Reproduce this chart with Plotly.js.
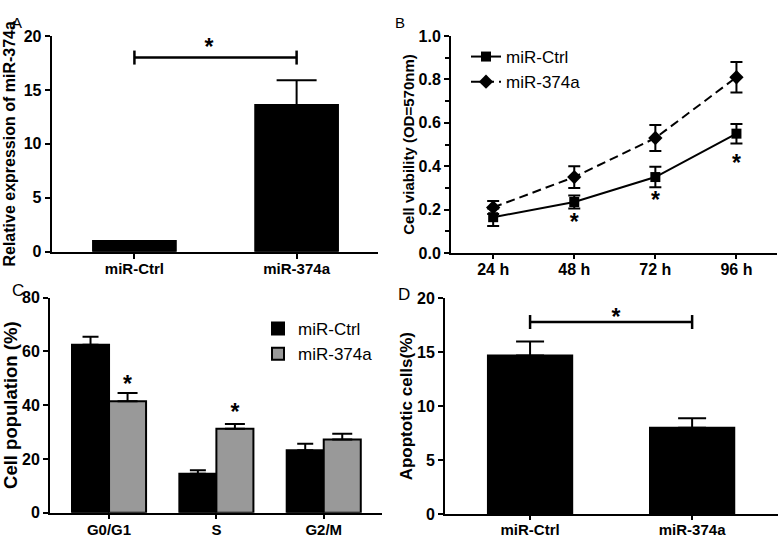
<!DOCTYPE html>
<html>
<head>
<meta charset="utf-8">
<script src="https://cdn.plot.ly/plotly-3.0.1.min.js"></script>
<style>html,body{margin:0;padding:0;background:#fff;}#chart{width:780px;height:539px;}</style>
</head>
<body>
<div id="chart"></div>
<script>
// ---------- Panel A: relative expression ----------
const catsA = ['miR-Ctrl', 'miR-374a'];
const valsA = [1.0, 13.6];
const errA = [0, 2.3];
const sigLevelA = 18;
const starLevelA = 18.75;

// ---------- Panel B: cell viability ----------
const timesB = ['24 h', '48 h', '72 h', '96 h'];
const ctrlB = [0.165, 0.235, 0.35, 0.55];
const ctrlErrB = [0.04, 0.03, 0.047, 0.045];
const mirB = [0.21, 0.35, 0.53, 0.81];
const mirErrB = [0.03, 0.05, 0.06, 0.07];
const starsB = [null, 0.132, 0.232, 0.405];

// ---------- Panel C: cell cycle ----------
const phasesC = ['G0/G1', 'S', 'G2/M'];
const ctrlC = [62.5, 14.5, 23.2];
const ctrlErrC = [3.0, 1.3, 2.5];
const mirC = [41.5, 31.2, 27.2];
const mirErrC = [3.0, 1.8, 2.2];
const starsC = [47.2, 36.8, null];

// ---------- Panel D: apoptosis ----------
const catsD = ['miR-Ctrl', 'miR-374a'];
const valsD = [14.7, 8.0];
const errD = [1.3, 0.87];
const sigLevelD = 17.8;
const starLevelD = 18.1;

const seriesNames = ['miR-Ctrl', 'miR-374a'];

// ---------- helpers ----------
const FONT = 'Liberation Sans, Arial, sans-serif';
const idx = a => a.map((_, i) => i);
const zeros = a => a.map(() => 0);
const starFont = {family: FONT, size: 23, color: '#000', weight: 'bold'};
const W = 780, H = 539;
const px = v => v / W;
const py = v => 1 - v / H;

const traces = [];

// Panel A
traces.push({
  type: 'bar', x: idx(catsA), y: valsA, width: 0.51, xaxis: 'x', yaxis: 'y',
  marker: {color: '#000', line: {color: '#000', width: 2}},
  error_y: {type: 'data', symmetric: false, array: errA, arrayminus: zeros(errA), color: '#000', thickness: 2, width: 20},
  showlegend: false, hoverinfo: 'skip'
});
traces.push({
  type: 'scatter', mode: 'lines+markers', x: [0, 1], y: [sigLevelA, sigLevelA], xaxis: 'x', yaxis: 'y',
  line: {color: '#000', width: 2.5}, marker: {symbol: 'line-ns', size: 10, line: {color: '#000', width: 2.5}},
  showlegend: false, hoverinfo: 'skip', cliponaxis: false
});
traces.push({
  type: 'scatter', mode: 'text', x: [0.46], y: [starLevelA], text: ['*'], textfont: starFont,
  xaxis: 'x', yaxis: 'y', showlegend: false, hoverinfo: 'skip', cliponaxis: false
});

// Panel B
traces.push({
  type: 'scatter', mode: 'lines+markers', name: seriesNames[0], x: idx(timesB), y: ctrlB, xaxis: 'x2', yaxis: 'y2',
  line: {color: '#000', width: 2}, marker: {symbol: 'square', size: 10, color: '#000'},
  error_y: {type: 'data', array: ctrlErrB, color: '#000', thickness: 2, width: 6},
  legend: 'legend', hoverinfo: 'skip', cliponaxis: false
});
traces.push({
  type: 'scatter', mode: 'lines+markers', name: seriesNames[1], x: idx(timesB), y: mirB, xaxis: 'x2', yaxis: 'y2',
  line: {color: '#000', width: 2, dash: '9px,5px'}, marker: {symbol: 'diamond', size: 11, color: '#000'},
  error_y: {type: 'data', array: mirErrB, color: '#000', thickness: 2, width: 6},
  legend: 'legend', hoverinfo: 'skip', cliponaxis: false
});
traces.push({
  type: 'scatter', mode: 'text', x: idx(timesB), y: starsB, text: starsB.map(s => s === null ? '' : '*'),
  textfont: starFont, xaxis: 'x2', yaxis: 'y2', showlegend: false, hoverinfo: 'skip', cliponaxis: false
});

// Panel C
const barW = 0.345;
traces.push({
  type: 'bar', name: seriesNames[0], x: idx(phasesC), y: ctrlC, xaxis: 'x3', yaxis: 'y3',
  marker: {color: '#000', line: {color: '#000', width: 2}},
  error_y: {type: 'data', symmetric: false, array: ctrlErrC, arrayminus: zeros(ctrlErrC), color: '#000', thickness: 2, width: 8},
  legend: 'legend2', hoverinfo: 'skip'
});
traces.push({
  type: 'bar', name: seriesNames[1], x: idx(phasesC), y: mirC, xaxis: 'x3', yaxis: 'y3',
  marker: {color: '#999999', line: {color: '#000', width: 2}},
  error_y: {type: 'data', symmetric: false, array: mirErrC, arrayminus: zeros(mirErrC), color: '#000', thickness: 2, width: 10},
  legend: 'legend2', hoverinfo: 'skip'
});
traces.push({
  type: 'scatter', mode: 'text', x: idx(phasesC).map(i => i + barW / 2), y: starsC,
  text: starsC.map(s => s === null ? '' : '*'), textfont: starFont,
  xaxis: 'x3', yaxis: 'y3', showlegend: false, hoverinfo: 'skip', cliponaxis: false
});

// Panel D
traces.push({
  type: 'bar', x: idx(catsD), y: valsD, width: 0.52, xaxis: 'x4', yaxis: 'y4',
  marker: {color: '#000', line: {color: '#000', width: 2}},
  error_y: {type: 'data', symmetric: false, array: errD, arrayminus: zeros(errD), color: '#000', thickness: 2, width: 14},
  showlegend: false, hoverinfo: 'skip'
});
traces.push({
  type: 'scatter', mode: 'lines+markers', x: [0, 1], y: [sigLevelD, sigLevelD], xaxis: 'x4', yaxis: 'y4',
  line: {color: '#000', width: 2.5}, marker: {symbol: 'line-ns', size: 10, line: {color: '#000', width: 2.5}},
  showlegend: false, hoverinfo: 'skip', cliponaxis: false
});
traces.push({
  type: 'scatter', mode: 'text', x: [0.53], y: [starLevelD], text: ['*'], textfont: starFont,
  xaxis: 'x4', yaxis: 'y4', showlegend: false, hoverinfo: 'skip', cliponaxis: false
});

const tickFont = {family: FONT, size: 16, color: '#000', weight: 'bold'};
const xTickFont = {family: FONT, size: 15, color: '#000', weight: 'bold'};
const baseAxis = {
  showgrid: false, zeroline: false, showline: true, linecolor: '#000', linewidth: 2,
  ticks: 'outside', ticklen: 5, tickwidth: 2, tickcolor: '#000', fixedrange: true
};
const yTitle = (text, size, standoff) => ({text: text, font: {family: FONT, size: size, color: '#000', weight: 'bold'}, standoff: standoff});

const layout = {
  width: W, height: H, margin: {l: 0, r: 0, t: 0, b: 0},
  paper_bgcolor: '#fff', plot_bgcolor: '#fff',
  barmode: 'group', bargap: 0.31, bargroupgap: 0,
  font: {family: FONT, color: '#000'},
  xaxis: Object.assign({}, baseAxis, {domain: [px(51.7), px(377.7)], anchor: 'y', range: [-0.51, 1.5],
    tickvals: idx(catsA), ticktext: catsA, tickfont: xTickFont, ticklabelstandoff: -3}),
  yaxis: Object.assign({}, baseAxis, {domain: [py(251.7), py(36)], anchor: 'x', range: [0, 20], dtick: 5,
    tickfont: tickFont, title: yTitle('Relative expression of miR-374a', 16, 4)}),
  xaxis2: Object.assign({}, baseAxis, {domain: [px(451), px(777)], anchor: 'y2', range: [-0.52, 3.5],
    tickvals: idx(timesB), ticktext: timesB, tickfont: tickFont, ticklen: 4, ticklabelstandoff: -3}),
  yaxis2: Object.assign({}, baseAxis, {domain: [py(253), py(36)], anchor: 'x2', range: [0, 1], dtick: 0.2, tickformat: '.1f',
    minor: {dtick: 0.1, ticks: 'outside', ticklen: 4, tickwidth: 2, tickcolor: '#000'},
    tickfont: tickFont, title: yTitle('Cell viability (OD=570nm)', 15, 0)}),
  xaxis3: Object.assign({}, baseAxis, {domain: [px(50), px(381.7)], anchor: 'y3', range: [-0.55, 2.54],
    tickvals: idx(phasesC), ticktext: phasesC, tickfont: xTickFont, ticklen: 4, ticklabelstandoff: -2}),
  yaxis3: Object.assign({}, baseAxis, {domain: [py(512.7), py(297.7)], anchor: 'x3', range: [0, 80], dtick: 20,
    tickfont: tickFont, title: yTitle('Cell population (%)', 18.5, 3)}),
  xaxis4: Object.assign({}, baseAxis, {domain: [px(445), px(778)], anchor: 'y4', range: [-0.525, 1.53],
    tickvals: idx(catsD), ticktext: catsD, tickfont: xTickFont, ticklen: 4, ticklabelstandoff: -3}),
  yaxis4: Object.assign({}, baseAxis, {domain: [py(514), py(298.3)], anchor: 'x4', range: [0, 20], dtick: 5,
    tickfont: tickFont, title: yTitle('Apoptotic cells(%)', 17, 0)}),
  legend: {x: px(466), y: py(39), xanchor: 'left', yanchor: 'top', bgcolor: 'rgba(0,0,0,0)',
    font: {family: FONT, size: 17, color: '#000'}, tracegroupgap: 0, itemwidth: 30},
  legend2: {x: px(258), y: py(311), xanchor: 'left', yanchor: 'top', bgcolor: 'rgba(0,0,0,0)',
    font: {family: FONT, size: 17, color: '#000'}, tracegroupgap: 0},
  annotations: [
    {text: 'A', x: px(10), y: py(12), xref: 'paper', yref: 'paper', showarrow: false, font: {family: FONT, size: 15, color: '#000'}},
    {text: 'B', x: px(400), y: py(12), xref: 'paper', yref: 'paper', showarrow: false, font: {family: FONT, size: 15, color: '#000'}},
    {text: 'C', x: px(10), y: py(290), xref: 'paper', yref: 'paper', showarrow: false, font: {family: FONT, size: 17, color: '#000'}},
    {text: 'D', x: px(404), y: py(294), xref: 'paper', yref: 'paper', showarrow: false, font: {family: FONT, size: 17, color: '#000'}}
  ]
};

Plotly.newPlot('chart', traces, layout, {displayModeBar: false, staticPlot: true});
</script>
</body>
</html>
